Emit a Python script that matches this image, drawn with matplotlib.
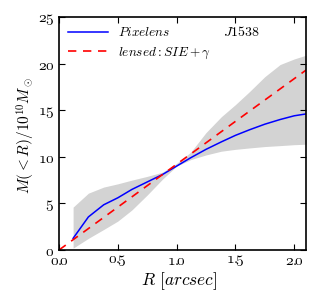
import numpy as np
import matplotlib
matplotlib.use("Agg")
import matplotlib.pyplot as plt

plt.rcParams["mathtext.fontset"] = "cm"
# custom set used only for the tick labels: old-style digits + normal period
plt.rcParams["mathtext.rm"] = "cmmi10"
plt.rcParams["mathtext.sf"] = "cmr10"

# Pixelens mass profile with uncertainty band
r_pix = [0.12, 0.25, 0.38, 0.5, 0.62, 0.75, 0.88, 1.0, 1.12, 1.25, 1.38, 1.5, 1.62, 1.75, 1.88, 2.0, 2.1]
m_pix = [1.25, 3.55, 4.85, 5.6, 6.5, 7.3, 8.1, 9.0, 9.9, 10.8, 11.6, 12.3, 12.9, 13.5, 14.0, 14.4, 14.6]
m_low = [0.2, 1.25, 2.2, 3.1, 4.3, 5.9, 7.6, 9.0, 9.7, 10.2, 10.6, 10.8, 10.95, 11.1, 11.2, 11.3, 11.35]
m_high = [4.6, 6.1, 6.75, 7.1, 7.5, 7.9, 8.35, 9.3, 10.5, 12.6, 14.3, 15.6, 17.0, 18.6, 19.9, 20.5, 20.9]

# lensed SIE+gamma model
r_sie = [0.0, 0.5, 1.0, 1.5, 2.1]
m_sie = [0.0, 4.6, 9.2, 13.8, 19.3]

xticks = [0.0, 0.5, 1.0, 1.5, 2.0]
yticks = [0, 5, 10, 15, 20, 25]

fig = plt.figure(figsize=(3.25, 2.91), dpi=100)
ax = fig.add_axes([59/325, 1 - 250/291, 247/325, 233/291])

ax.fill_between(r_pix, m_low, m_high, color="lightgray", linewidth=0)
ax.plot(r_pix, m_pix, color="blue", linewidth=1.1, label=r"$Pixelens$")
ax.plot(r_sie, m_sie, color="red", linestyle="--", dashes=(5, 4), linewidth=1.2,
        label=r"$lensed: SIE+\gamma$")

ax.set_xlim(0, 2.1)
ax.set_ylim(0, 25)
ax.set_xticks(xticks)
ax.set_yticks(yticks)
ax.set_xticklabels([r"$%s\mathsf{.}\!\!%s$" % tuple(("%.1f" % v).split(".")) for v in xticks])
ax.set_yticklabels([r"$%d$" % v for v in yticks])
ax.tick_params(direction="in", top=True, right=True, labelsize=11, length=4)
ax.tick_params(axis="x", pad=2)
for lab in ax.get_xticklabels() + ax.get_yticklabels():
    lab.set_math_fontfamily("custom")

for s in ax.spines.values():
    s.set_linewidth(1.2)

ax.set_xlabel(r"$R\ [arcsec]$", fontsize=12.5)
ax.set_ylabel(r"$M({<}R)/10^{10}M_\odot$", fontsize=11)
ax.xaxis.set_label_coords(0.487, -0.088)
ax.yaxis.set_label_coords(-0.09, 0.49)

ax.text(0.664, 0.936, r"$J1538$", transform=ax.transAxes, fontsize=10, ha="left", va="center")
ax.legend(loc="upper left", frameon=False, fontsize=9.5, handlelength=3, borderaxespad=0.3)

plt.savefig("out.png", dpi=100)
